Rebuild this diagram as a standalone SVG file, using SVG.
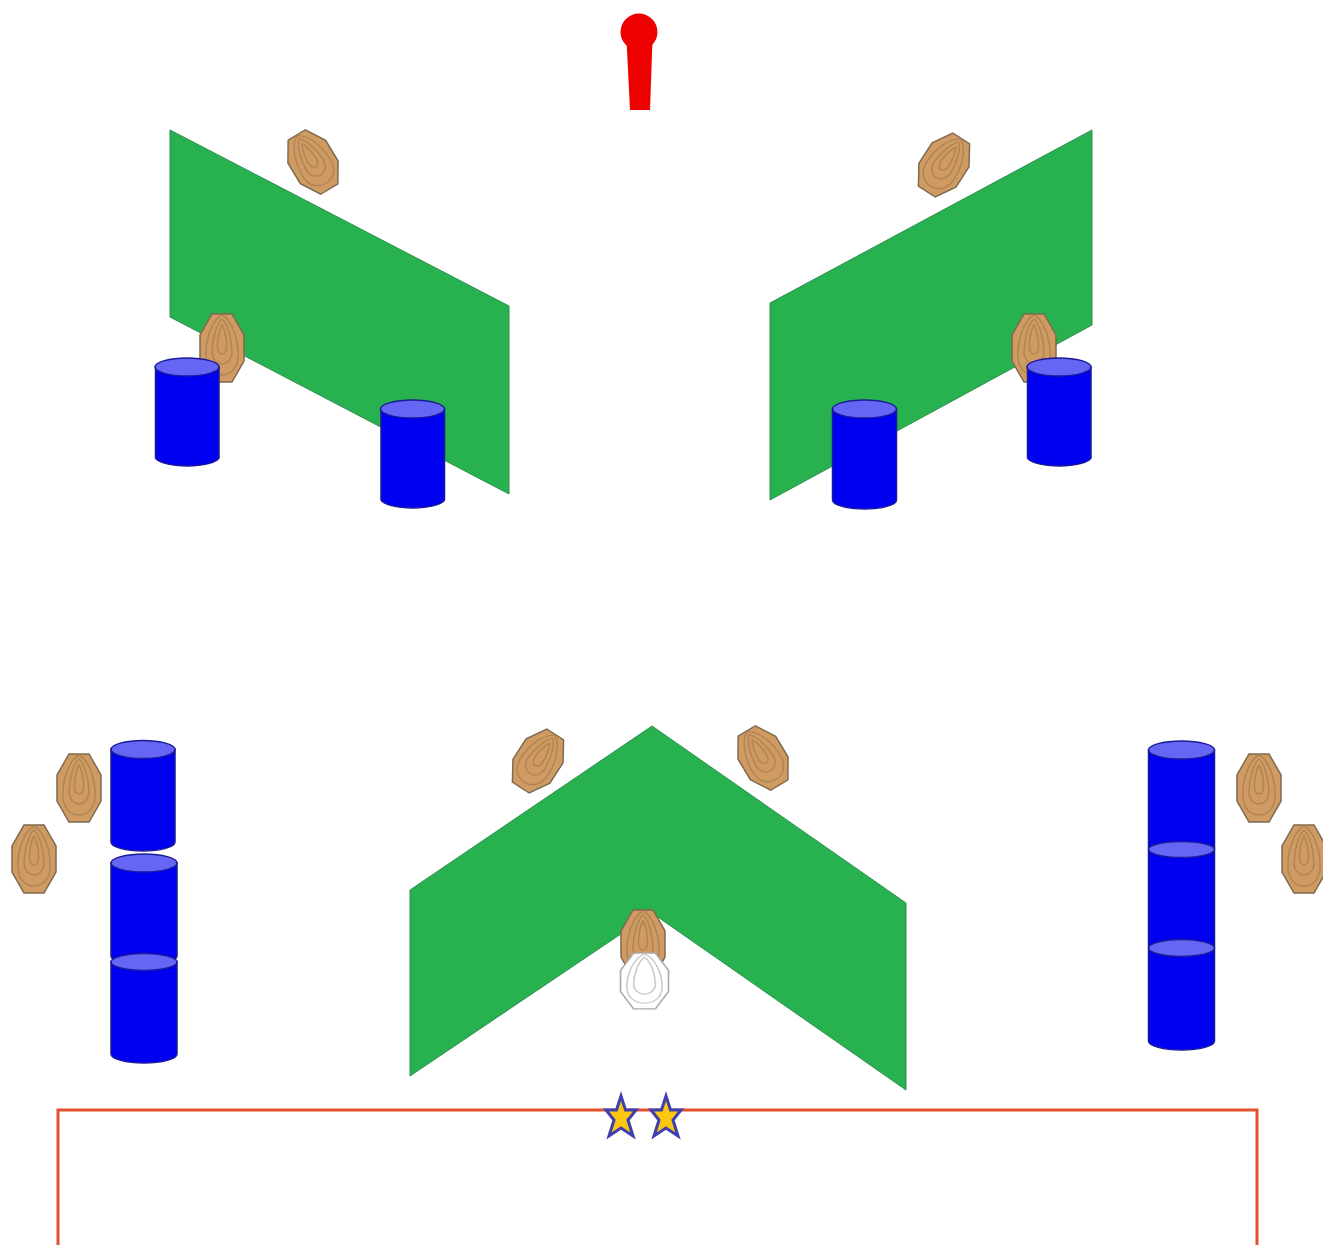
<svg xmlns="http://www.w3.org/2000/svg" width="1323" height="1245" viewBox="0 0 1323 1245">
<style>
.panel{fill:#27b14f;stroke:#2f8f50;stroke-width:1}
.seed-o{fill:#cf9b62;stroke:#7d6a50;stroke-width:1.5}
.seed-i{fill:none;stroke:#b08555;stroke-width:1.5}
.seedw-o{fill:#fff;stroke:#aaa;stroke-width:1.5}
.seedw-i{fill:none;stroke:#ccc;stroke-width:1.5}
.cyl-b{fill:#0000f0;stroke:#1a1a9a;stroke-width:1.5}
.cyl-t{fill:#6666f4;stroke:#1a1a9a;stroke-width:1.5}
.star{fill:#fdc60f;stroke:#3f3fb0;stroke-width:3}
</style>
<defs>
<g id="seed">
<path class="seed-o" d="M-10,-34 L10,-34 L22,-13 L22,13 L10,34 L-10,34 L-22,13 L-22,-13 Z"/>
<path class="seed-i" d="M0,-33 C-10,-28 -17,-8 -16,10 C-15,22 -7,27 0,27 C7,27 15,22 16,10 C17,-8 10,-28 0,-33 Z"/>
<path class="seed-i" d="M0,-29 C-6,-24 -10,-7 -10,5 C-9,13 -4,16 0,16 C4,16 9,13 10,5 C10,-7 6,-24 0,-29 Z"/>
<path class="seed-i" d="M0,-23 C-3,-18 -5,-7 -4.500,0 C-4,4 -2,6 0,6 C2,6 4,4 4.500,0 C5,-7 3,-18 0,-23 Z"/>
</g>
<g id="seed-white">
<path class="seedw-o" d="M-10,-34 L10,-34 L22,-13 L22,13 L10,34 L-10,34 L-22,13 L-22,-13 Z"/>
<path class="seedw-i" d="M0,-33 C-10,-28 -17,-8 -16,10 C-15,22 -7,27 0,27 C7,27 15,22 16,10 C17,-8 10,-28 0,-33 Z"/>
<path class="seedw-i" d="M0,-29 C-6,-24 -10,-7 -10,5 C-9,13 -4,16 0,16 C4,16 9,13 10,5 C10,-7 6,-24 0,-29 Z"/>
</g>
</defs>
<g id="connectors"></g>
<g id="pin"><circle cx="639" cy="32" r="18.500" fill="#ee0000"/><path d="M626.500,40 L652.500,40 L650,110 L630,110 Z" fill="#ee0000"/></g>

<g id="seed-1"><use href="#seed" transform="translate(313,162) rotate(-31) scale(1,.93)"/></g>
<g id="seed-2"><use href="#seed" transform="translate(944,165) rotate(33) scale(1,.93)"/></g>

<g id="panel-left"><path class="panel" d="M170,130 L509,306 L509,494 L170,317 Z"/></g>
<g id="panel-right"><path class="panel" d="M770,303 L1092,130 L1092,325 L770,500 Z"/></g>
<g id="seed-3"><use href="#seed" transform="translate(222,348)"/></g>
<g id="seed-4"><use href="#seed" transform="translate(1034,348)"/></g>

<g id="cyl-1"><path class="cyl-b" d="M155.500,367 L155.500,458 A32,9 0 0 0 219,458 L219,367 Z"/><ellipse class="cyl-t" cx="187" cy="367" rx="32" ry="9"/></g>
<g id="cyl-2"><path class="cyl-b" d="M381,409 L381,500 A32,9 0 0 0 444.500,500 L444.500,409 Z"/><ellipse class="cyl-t" cx="412.500" cy="409" rx="32" ry="9"/></g>
<g id="cyl-3"><path class="cyl-b" d="M832.500,409 L832.500,500 A32,9 0 0 0 896.500,500 L896.500,409 Z"/><ellipse class="cyl-t" cx="864.500" cy="409" rx="32" ry="9"/></g>
<g id="cyl-4"><path class="cyl-b" d="M1027.500,367 L1027.500,458 A32,9 0 0 0 1091,458 L1091,367 Z"/><ellipse class="cyl-t" cx="1059" cy="367" rx="32" ry="9"/></g>

<g id="seed-5"><use href="#seed" transform="translate(79,788)"/></g>
<g id="seed-6"><use href="#seed" transform="translate(34,859)"/></g>
<g id="cyl-5"><path class="cyl-b" d="M111,749 L111,842 A32,9 0 0 0 175,842 L175,749 Z"/><ellipse class="cyl-t" cx="143" cy="749.500" rx="32" ry="9"/></g>
<g id="cyl-6"><path class="cyl-b" d="M111,863 L111,956 A33,9 0 0 0 177,956 L177,863 Z"/><ellipse class="cyl-t" cx="144" cy="863" rx="33" ry="9"/></g>
<g id="cyl-7"><path class="cyl-b" d="M111,962 L111,1054 A33,9 0 0 0 177,1054 L177,962 Z"/><ellipse class="cyl-t" cx="144" cy="962" rx="33" ry="8.500"/></g>

<g id="seed-7"><use href="#seed" transform="translate(538,761) rotate(33) scale(1,.93)"/></g>
<g id="seed-8"><use href="#seed" transform="translate(763,758) rotate(-31) scale(1,.93)"/></g>
<g id="panel-center"><path class="panel" d="M410,890 L652,726 L906,903 L906,1090 L652,913 L410,1076 Z"/></g>
<g id="seed-9"><use href="#seed" transform="translate(643,944)"/></g>
<g id="seed-10"><use href="#seed-white" transform="translate(644.500,981) scale(1.09,.82)"/></g>

<g id="cyl-8"><path class="cyl-b" d="M1148.500,750 L1148.500,1041 A33,9 0 0 0 1214.500,1041 L1214.500,750 Z"/><ellipse class="cyl-t" cx="1181.500" cy="750" rx="33" ry="9"/></g>
<g id="cyl-8b"><ellipse class="cyl-t" cx="1181.500" cy="849.500" rx="33" ry="8"/></g>
<g id="cyl-8c"><ellipse class="cyl-t" cx="1181.500" cy="948" rx="33" ry="8.500"/></g>
<g id="seed-11"><use href="#seed" transform="translate(1259,788)"/></g>
<g id="seed-12"><use href="#seed" transform="translate(1304,859)"/></g>

<g id="frame"><path d="M58,1245 L58,1110 L1257,1110 L1257,1245" fill="none" stroke="#e2512c" stroke-width="3"/></g>
<g id="star-1"><path class="star" d="M621,1096 L625.500,1110 L636,1110 L628,1120 L633,1136 L621,1128 L609,1136 L614,1120 L606,1110 L616.500,1110 Z"/></g>
<g id="star-2"><path class="star" d="M666,1096 L670.500,1110 L681,1110 L673,1120 L678,1136 L666,1128 L654,1136 L659,1120 L651,1110 L661.500,1110 Z"/></g>
</svg>
